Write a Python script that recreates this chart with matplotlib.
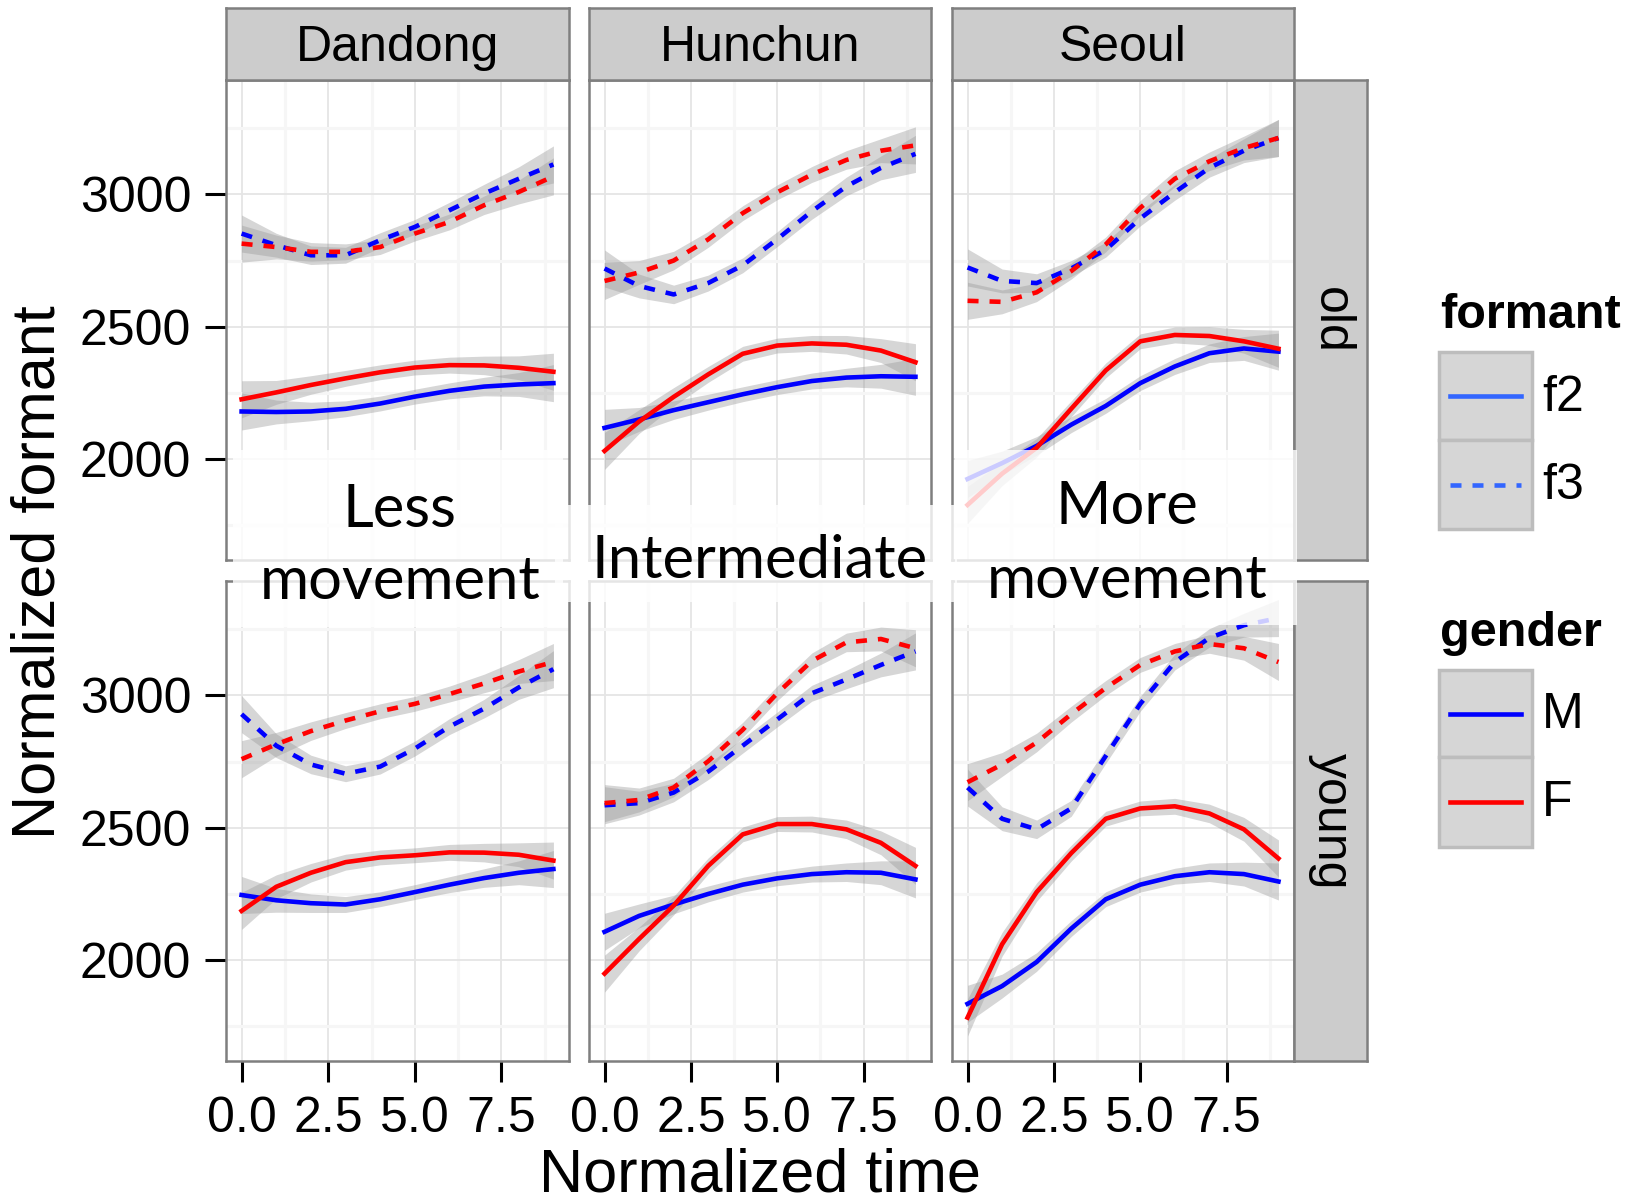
import matplotlib
matplotlib.use("Agg")
import matplotlib.pyplot as plt
from matplotlib.patches import Rectangle
from matplotlib.lines import Line2D

W, H = 1636, 1202

cities = ["Dandong", "Hunchun", "Seoul"]
ages = ["old", "young"]
t = [0, 1, 2, 3, 4, 5, 6, 7, 8, 9]
band = [70, 45, 35, 30, 28, 28, 30, 35, 45, 70]   # half width of the grey se ribbon

# old speakers
dandong_old_f2_m = [2180, 2178, 2180, 2190, 2210, 2236, 2258, 2274, 2282, 2287]
dandong_old_f2_f = [2226, 2252, 2280, 2305, 2328, 2346, 2355, 2354, 2345, 2330]
dandong_old_f3_m = [2852, 2808, 2770, 2770, 2827, 2877, 2940, 3003, 3059, 3113]
dandong_old_f3_f = [2814, 2801, 2783, 2783, 2801, 2852, 2896, 2959, 3009, 3068]

hunchun_old_f2_m = [2118, 2150, 2185, 2215, 2245, 2272, 2295, 2308, 2313, 2311]
hunchun_old_f2_f = [2031, 2142, 2235, 2320, 2398, 2429, 2437, 2432, 2410, 2366]
hunchun_old_f3_m = [2720, 2654, 2622, 2665, 2732, 2831, 2936, 3030, 3100, 3153]
hunchun_old_f3_f = [2673, 2705, 2750, 2830, 2929, 3008, 3075, 3130, 3165, 3185]

seoul_old_f2_m = [1925, 1985, 2050, 2130, 2201, 2287, 2350, 2400, 2418, 2406]
seoul_old_f2_f = [1827, 1945, 2043, 2190, 2335, 2445, 2469, 2465, 2445, 2417]
seoul_old_f3_m = [2724, 2673, 2665, 2720, 2791, 2909, 3008, 3100, 3165, 3213]
seoul_old_f3_f = [2598, 2594, 2630, 2710, 2811, 2949, 3059, 3125, 3175, 3213]

# young speakers
dandong_young_f2_m = [2246, 2226, 2215, 2210, 2230, 2257, 2285, 2310, 2330, 2344]
dandong_young_f2_f = [2186, 2277, 2330, 2370, 2388, 2396, 2407, 2406, 2398, 2376]
dandong_young_f3_m = [2929, 2810, 2739, 2704, 2731, 2799, 2882, 2950, 3030, 3099]
dandong_young_f3_f = [2759, 2815, 2865, 2905, 2940, 2968, 3005, 3045, 3090, 3126]

hunchun_young_f2_m = [2107, 2167, 2210, 2250, 2285, 2309, 2325, 2332, 2330, 2305]
hunchun_young_f2_f = [1949, 2080, 2206, 2356, 2475, 2514, 2514, 2494, 2443, 2356]
hunchun_young_f3_m = [2585, 2593, 2633, 2712, 2810, 2909, 3008, 3060, 3115, 3166]
hunchun_young_f3_f = [2593, 2605, 2652, 2751, 2870, 3008, 3130, 3200, 3213, 3178]

seoul_young_f2_m = [1835, 1902, 1993, 2119, 2230, 2285, 2317, 2332, 2325, 2297]
seoul_young_f2_f = [1783, 2060, 2257, 2404, 2534, 2573, 2581, 2554, 2494, 2384]
seoul_young_f3_m = [2652, 2534, 2494, 2573, 2771, 2968, 3126, 3217, 3265, 3292]
seoul_young_f3_f = [2672, 2739, 2822, 2929, 3028, 3115, 3166, 3194, 3178, 3126]

panels = {
    ("Dandong", "old"): [dandong_old_f2_m, dandong_old_f2_f, dandong_old_f3_m, dandong_old_f3_f],
    ("Hunchun", "old"): [hunchun_old_f2_m, hunchun_old_f2_f, hunchun_old_f3_m, hunchun_old_f3_f],
    ("Seoul", "old"): [seoul_old_f2_m, seoul_old_f2_f, seoul_old_f3_m, seoul_old_f3_f],
    ("Dandong", "young"): [dandong_young_f2_m, dandong_young_f2_f, dandong_young_f3_m, dandong_young_f3_f],
    ("Hunchun", "young"): [hunchun_young_f2_m, hunchun_young_f2_f, hunchun_young_f3_m, hunchun_young_f3_f],
    ("Seoul", "young"): [seoul_young_f2_m, seoul_young_f2_f, seoul_young_f3_m, seoul_young_f3_f],
}
series_style = [("blue", "-"), ("red", "-"), ("blue", "--"), ("red", "--")]

plt.rcParams["font.family"] = ["Liberation Sans", "DejaVu Sans"]

fig = plt.figure(figsize=(W / 100, H / 100), dpi=100)


def box(x0, y0, x1, y1):
    # pixel box (from top-left) -> figure fraction rect
    return [x0 / W, 1 - y1 / H, (x1 - x0) / W, (y1 - y0) / H]


col_x = [(226, 569), (589, 931), (952, 1294)]
row_y = [(80, 560), (581, 1061)]
border = "#7F7F7F"

for r, age in enumerate(ages):
    for c, city in enumerate(cities):
        ax = fig.add_axes(box(col_x[c][0], row_y[r][0], col_x[c][1], row_y[r][1]))
        ax.set_xlim(-0.45, 9.45)
        ax.set_ylim(1619, 3432)
        ax.set_xticks([0, 2.5, 5, 7.5])
        ax.set_xticks([1.25, 3.75, 6.25, 8.75], minor=True)
        ax.set_yticks([2000, 2500, 3000])
        ax.set_yticks([1750, 2250, 2750, 3250], minor=True)
        ax.grid(which="major", color="#E5E5E5", lw=1.3)
        ax.grid(which="minor", color="#F6F6F6", lw=2.2)
        ax.set_axisbelow(True)
        for s in ax.spines.values():
            s.set_color(border)
            s.set_linewidth(1.8)
        ax.tick_params(which="minor", length=0)
        ax.tick_params(which="major", length=15, width=2.2, color="black",
                       labelsize=36, pad=10)
        if c > 0:
            ax.tick_params(axis="y", length=0, labelleft=False)
        if r == 0:
            ax.tick_params(axis="x", length=0, labelbottom=False)
        else:
            ax.set_xticklabels(["0.0", "2.5", "5.0", "7.5"])

        for vals, (col, ls) in zip(panels[(city, age)], series_style):
            lo = [v - b for v, b in zip(vals, band)]
            hi = [v + b for v, b in zip(vals, band)]
            ax.fill_between(t, lo, hi, color="#999999", alpha=0.4, lw=0)
            ln, = ax.plot(t, vals, color=col, lw=3.3, ls=ls,
                          solid_joinstyle="round", dash_joinstyle="round")
            if ls == "--":
                ln.set_dashes((2.4, 2.4))

        if r == 0:
            sax = fig.add_axes(box(col_x[c][0], 8, col_x[c][1], 80))
            sax.set_facecolor("#CCCCCC")
            sax.set_xticks([])
            sax.set_yticks([])
            for s in sax.spines.values():
                s.set_color(border)
                s.set_linewidth(1.8)
            sax.text(0.5, 0.44, city, ha="center", va="center", fontsize=36,
                     transform=sax.transAxes)

    sax = fig.add_axes(box(1294, row_y[r][0], 1367, row_y[r][1]))
    sax.set_facecolor("#CCCCCC")
    sax.set_xticks([])
    sax.set_yticks([])
    for s in sax.spines.values():
        s.set_color(border)
        s.set_linewidth(1.8)
    sax.text(0.5, 0.5, age, ha="center", va="center", fontsize=36, rotation=-90,
             transform=sax.transAxes)

fig.text(760 / W, 1 - 1176 / H, "Normalized time", ha="center", va="center", fontsize=44)
fig.text(39 / W, 1 - 572 / H, "Normalized formant", ha="center", va="center",
         fontsize=44, rotation=90)

# partly visible title at the very top edge
fig.text(571 / W, 1 + 13 / H, "g", ha="center", va="baseline", fontsize=44,
         fontweight="bold")

# legends
def legend_key(y0, y1, color, ls):
    fig.add_artist(Rectangle((1439 / W, 1 - y1 / H), 93 / W, (y1 - y0) / H,
                             transform=fig.transFigure, facecolor="#D6D6D6",
                             edgecolor="#BDBDBD", lw=2.5))
    ym = 1 - (y0 + y1) / 2 / H
    ln = Line2D([1450 / W, 1521 / W], [ym, ym], transform=fig.transFigure,
                color=color, lw=3.3, ls=ls)
    if ls == "--":
        ln.set_dashes((2.4, 2.4))
    fig.add_artist(ln)


fig.text(1440 / W, 1 - 315 / H, "formant", fontsize=35, fontweight="bold", va="center")
legend_key(352, 440, "#3366FF", "-")
legend_key(440, 529, "#3366FF", "--")
fig.text(1542 / W, 1 - 398 / H, "f2", fontsize=36, va="center")
fig.text(1542 / W, 1 - 486 / H, "f3", fontsize=36, va="center")

fig.text(1440 / W, 1 - 633 / H, "gender", fontsize=35, fontweight="bold", va="center")
legend_key(670, 757, "blue", "-")
legend_key(757, 847, "red", "-")
fig.text(1542 / W, 1 - 715 / H, "M", fontsize=36, va="center")
fig.text(1542 / W, 1 - 803 / H, "F", fontsize=36, va="center")

# annotation boxes laid over the plot
for x0, y0, x1, y1 in [(233, 450, 563, 627), (555, 505, 957, 602), (955, 450, 1297, 625)]:
    fig.add_artist(Rectangle((x0 / W, 1 - y1 / H), (x1 - x0) / W, (y1 - y0) / H,
                             transform=fig.transFigure, facecolor="white",
                             edgecolor="none", alpha=0.8, zorder=10))

notes = [(400, 510, "Less"), (400, 582, "movement"), (760, 561, "Intermediate"),
         (1127, 507, "More"), (1127, 581, "movement")]
for x, y, s in notes:
    fig.text(x / W, 1 - y / H, s, ha="center", va="center", fontsize=43,
             family=["Lato", "DejaVu Sans"], zorder=11)

fig.savefig("out.png", dpi=100)
